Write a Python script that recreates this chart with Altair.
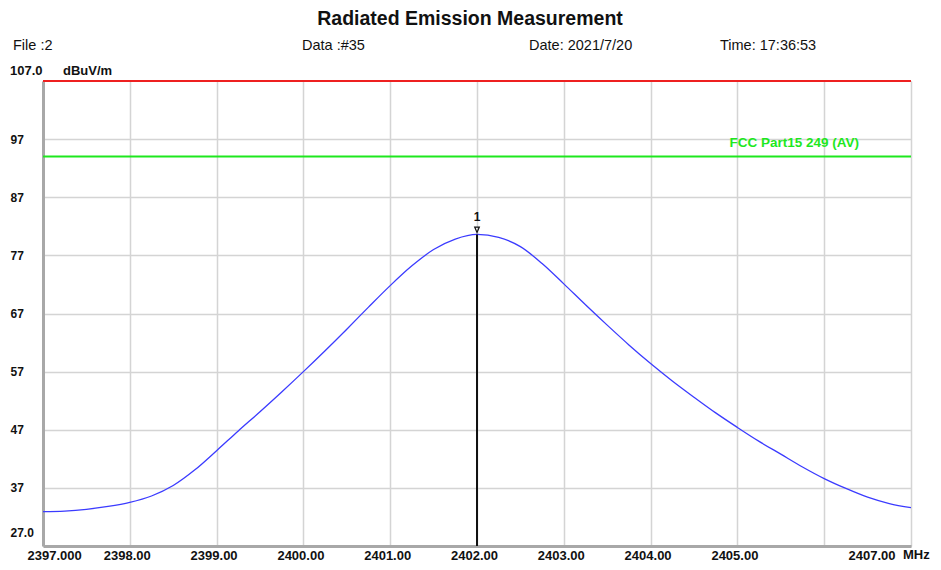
import altair as alt
import pandas as pd

# ---- data ----
freq_mhz = [2397, 2397.25, 2397.5, 2397.75, 2398, 2398.25, 2398.5, 2398.75,
            2399, 2399.25, 2399.5, 2399.75, 2400, 2400.25, 2400.5, 2400.75,
            2401, 2401.25, 2401.5, 2401.75, 2402, 2402.25, 2402.5, 2402.75,
            2403, 2403.25, 2403.5, 2403.75, 2404, 2404.25, 2404.5, 2404.75,
            2405, 2405.25, 2405.5, 2405.75, 2406, 2406.25, 2406.5, 2406.75, 2407]
level_dbuv = [32.9, 33.0, 33.3, 33.8, 34.5, 35.6, 37.4, 40.1,
              43.4, 46.8, 50.1, 53.5, 57.0, 60.6, 64.3, 68.1,
              71.8, 75.2, 78.0, 79.8, 80.6, 80.1, 78.5, 75.6,
              72.1, 68.5, 65.0, 61.6, 58.4, 55.4, 52.6, 49.9,
              47.4, 45.0, 42.8, 40.6, 38.6, 36.9, 35.4, 34.3, 33.6]

x_ticks = [2397, 2398, 2399, 2400, 2401, 2402, 2403, 2404, 2405, 2406, 2407]
y_ticks = [27, 37, 47, 57, 67, 77, 87, 97]

limit_name = "FCC Part15 249 (AV)"
limit_level = [94]
top_level = [107]
marker_freq = [2402]
marker_level = [80.6]
marker_label = ["1"]

title_text = "Radiated Emission Measurement"
header_texts = ["File :2", "Data :#35", "Date: 2021/7/20", "Time: 17:36:53"]
y_unit = "dBuV/m"
y_top_label = "107.0"
x_unit = "MHz"

FONT = "Liberation Sans, Arial, sans-serif"

curve_df = pd.DataFrame({"f": freq_mhz, "lvl": level_dbuv})
xscale = alt.Scale(domain=[2397, 2407], nice=False, zero=False)
yscale = alt.Scale(domain=[27, 107], nice=False, zero=False)

x_axis = alt.Axis(
    values=x_ticks, title=None, ticks=False, grid=True,
    gridColor="#d4d4d4", gridWidth=1.5,
    domainColor="#a8a8a8", domainWidth=3,
    labelFont=FONT, labelFontSize=13, labelFontWeight="bold", labelColor="#111",
    labelPadding=3, labelBaseline="top",
    labelExpr="datum.value == 2397 ? '2397.000' : (datum.value == 2406 ? '' : format(datum.value, '.2f'))",
    labelAlign={"condition": [{"test": "datum.value == 2397", "value": "left"},
                              {"test": "datum.value == 2407", "value": "right"}],
                "value": "center"},
    labelOffset={"condition": {"test": "datum.value == 2397 || datum.value == 2407", "value": -16},
                 "value": -3},
    labelFlush=False, labelOverlap=False, labelBound=False,
)
y_axis = alt.Axis(
    values=y_ticks, title=None, ticks=False, grid=True,
    gridColor="#d4d4d4", gridWidth=1.5,
    domainColor="#a8a8a8", domainWidth=3,
    labelFont=FONT, labelFontSize=12, labelFontWeight="bold", labelColor="#111",
    labelAlign="left", labelBaseline="middle", labelPadding=33,
    labelOffset={"condition": {"test": "datum.value == 27", "value": -14}, "value": 0},
    labelExpr="datum.value == 27 ? '27.0' : datum.label",
    labelOverlap=False,
)

base = alt.Chart(curve_df)

curve = base.mark_line(color="#3b3bff", strokeWidth=1.3, interpolate="monotone").encode(
    x=alt.X("f:Q", scale=xscale, axis=x_axis),
    y=alt.Y("lvl:Q", scale=yscale, axis=y_axis),
)

limit_df = pd.DataFrame({"y": limit_level, "name": [limit_name]})
limit_line = alt.Chart(limit_df).mark_rule(color="#1ee81e", strokeWidth=2).encode(
    y=alt.Y("y:Q", scale=yscale),
    x=alt.value(0), x2=alt.value(868),
)
limit_text = alt.Chart(limit_df).mark_text(
    color="#1ee81e", font=FONT, fontSize=13.5, fontWeight="bold",
    align="right", baseline="middle", dy=-14,
).encode(y=alt.Y("y:Q", scale=yscale), x=alt.value(816), text="name:N")

top_df = pd.DataFrame({"y": top_level})
top_line = alt.Chart(top_df).mark_rule(color="#ee2020", strokeWidth=2).encode(
    y=alt.Y("y:Q", scale=yscale), x=alt.value(0), x2=alt.value(868),
)

mk_df = pd.DataFrame({"f": marker_freq, "lvl": marker_level, "lab": marker_label, "base": [27]})
mk_rule = alt.Chart(mk_df).mark_rule(color="#111", strokeWidth=2).encode(
    x=alt.X("f:Q", scale=xscale), y=alt.Y("lvl:Q", scale=yscale), y2="base:Q",
)
mk_sym = alt.Chart(mk_df).mark_point(
    shape="M-0.6,-1.9L0,-0.5L0.6,-1.9Z", filled=False, color="#111", strokeWidth=1.2, size=60, opacity=1,
).encode(x=alt.X("f:Q", scale=xscale), y=alt.Y("lvl:Q", scale=yscale))
mk_text = alt.Chart(mk_df).mark_text(
    font=FONT, fontSize=12, fontWeight="bold", color="#111", baseline="middle", dy=-17,
).encode(x=alt.X("f:Q", scale=xscale), y=alt.Y("lvl:Q", scale=yscale), text="lab:N")

# header annotations (positions relative to plot area)
title = alt.Chart(pd.DataFrame({"t": [title_text]})).mark_text(
    font=FONT, fontSize=19.5, fontWeight="bold", color="#111", align="center", baseline="middle",
).encode(x=alt.value(427), y=alt.value(-62), text="t:N")

hdr_df = pd.DataFrame({"t": header_texts, "px": [-30, 259, 486, 677]})
header = alt.Chart(hdr_df).mark_text(
    font=FONT, fontSize=14.5, color="#111", align="left", baseline="middle",
).encode(x=alt.X("px:Q", scale=None), y=alt.value(-35), text="t:N")

unit_df = pd.DataFrame({"t": [y_top_label, y_unit], "px": [-33, 20]})
units = alt.Chart(unit_df).mark_text(
    font=FONT, fontSize=13, fontWeight="bold", color="#111", align="left", baseline="middle",
).encode(x=alt.X("px:Q", scale=None), y=alt.value(-10), text="t:N")

mhz = alt.Chart(pd.DataFrame({"t": [x_unit]})).mark_text(
    font=FONT, fontSize=13, fontWeight="bold", color="#111", align="left", baseline="top",
).encode(x=alt.value(860), y=alt.value(468), text="t:N")

chart = alt.layer(
    curve, limit_line, limit_text, top_line, mk_rule, mk_sym, mk_text,
    title, header, units, mhz,
).properties(
    width=868, height=465,
    autosize=alt.AutoSizeParams(type="none"),
    padding={"left": 35, "top": 73, "right": 22, "bottom": 16},
).configure_view(stroke="#a8a8a8", strokeWidth=3).configure(background="white")

chart.save("out.html", embed_options={"renderer": "svg", "actions": False})
